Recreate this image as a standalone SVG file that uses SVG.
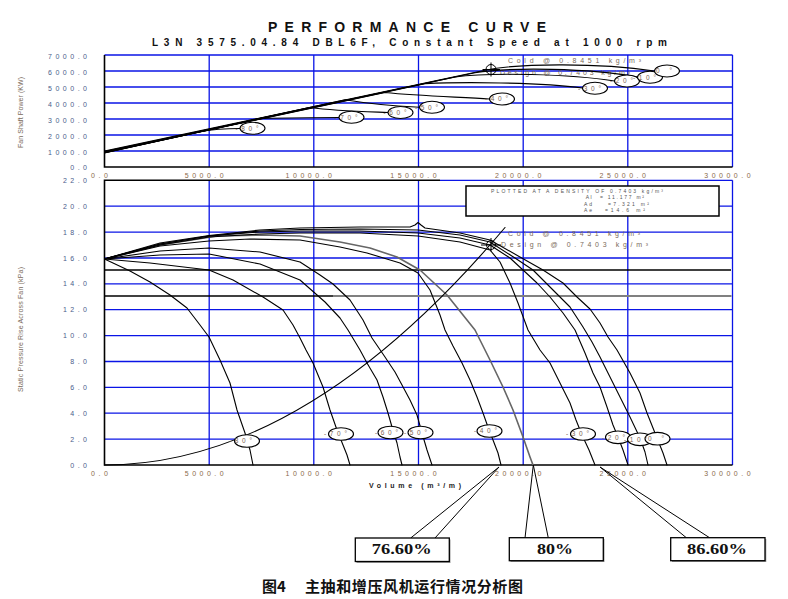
<svg xmlns="http://www.w3.org/2000/svg" width="788" height="599" viewBox="0 0 788 599">
<style>
.grid{stroke:#0a14e6;stroke-width:1.3;fill:none}
.axis{stroke:#000;stroke-width:1.6;fill:none}
.cv{fill:none;stroke:#000;stroke-width:1.1;stroke-linejoin:round;stroke-linecap:round}
.ell{fill:#fff;stroke:#000;stroke-width:1.1}
.tx{font-family:"Liberation Sans",Arial,sans-serif;font-size:7px;letter-spacing:3.5px}
.ty{fill:#4a5d8a}
.txx{fill:#8a6a4a}
.lab{font-family:"Liberation Sans",Arial,sans-serif;font-size:6.5px;fill:#7a6450}
.small{font-family:"Liberation Sans",Arial,sans-serif;font-size:7px;fill:#7a6a5a}
.leg{font-family:"Liberation Sans",Arial,sans-serif;font-size:5px;fill:#555}
.box{fill:#fff;stroke:#000;stroke-width:1.3}
.shadow{fill:#999}
.pct{font-family:"Liberation Serif","Times New Roman",serif;font-weight:bold;font-size:14px;fill:#111}
.conn{stroke:#000;stroke-width:1;fill:none}
.cross{fill:none;stroke:#000;stroke-width:1}
</style>
<rect width="788" height="599" fill="#fff"/>

<g id="title" font-family="Liberation Sans, Arial, sans-serif" font-weight="bold" fill="#111">
<text x="268" y="32" font-size="14" textLength="278" lengthAdjust="spacing">PERFORMANCE CURVE</text>
<text x="152" y="46" font-size="10" textLength="515" lengthAdjust="spacing">L3N 3575.04.84 DBL6F, Constant Speed at 1000 rpm</text>
</g>

<g id="power-chart">
<g class="grid">
<line x1="104.5" y1="55" x2="732.5" y2="55"/>
<line x1="104.5" y1="71" x2="732.5" y2="71"/>
<line x1="104.5" y1="87" x2="732.5" y2="87"/>
<line x1="104.5" y1="103" x2="732.5" y2="103"/>
<line x1="104.5" y1="119" x2="732.5" y2="119"/>
<line x1="104.5" y1="135" x2="732.5" y2="135"/>
<line x1="104.5" y1="151" x2="732.5" y2="151"/>
<line x1="209.2" y1="55" x2="209.2" y2="167"/>
<line x1="313.8" y1="55" x2="313.8" y2="167"/>
<line x1="418.5" y1="55" x2="418.5" y2="167"/>
<line x1="523.2" y1="55" x2="523.2" y2="167"/>
<line x1="627.8" y1="55" x2="627.8" y2="167"/>
<line x1="732.5" y1="55" x2="732.5" y2="167"/>
</g>
<polyline class="axis" points="104.5,55 104.5,167 732.5,167"/>
<g class="tx ty" text-anchor="end">
<text x="90.5" y="58.5">7000.0</text>
<text x="90.5" y="74.5">6000.0</text>
<text x="90.5" y="90.5">5000.0</text>
<text x="90.5" y="106.5">4000.0</text>
<text x="90.5" y="122.5">3000.0</text>
<text x="90.5" y="138.5">2000.0</text>
<text x="90.5" y="154.5">1000.0</text>
<text x="90.5" y="170">0.0</text>
</g>
<g class="tx txx" text-anchor="middle">
<text x="101.2" y="177.5">0.0</text>
<text x="206" y="177.5">5000.0</text>
<text x="310.5" y="177.5">10000.0</text>
<text x="415.2" y="177.5">15000.0</text>
<text x="520" y="177.5">20000.0</text>
<text x="624.5" y="177.5">25000.0</text>
<text x="729.2" y="177.5">30000.0</text>
</g>
<text class="small" transform="translate(22.5,112.5) rotate(-90)" text-anchor="middle" font-size="6.5" fill="#4a5d8a" textLength="71" lengthAdjust="spacing">Fan Shaft Power (KW)</text>
<text class="small" x="508" y="63" textLength="133" lengthAdjust="spacing">Cold @ 0.8451 kg/m³</text>
<text class="small" x="500" y="75" textLength="130" lengthAdjust="spacing">Design @ 0.7403 kg/m³</text>
<g id="power-curves">
<path class="cv" d="M104.5,151 L485,70.2 C520,63 600,63 654.5,71"/>
<path class="cv" d="M104.5,151.6 L475,72.8 C510,67 590,68 637.5,77"/>
<path class="cv" d="M104.5,151.8 L455,77 C490,72 570,74 614.5,81"/>
<path class="cv" d="M104.5,152 L425,83.6 C460,82 540,82 582.5,88"/>
<path class="cv" d="M104.5,152.2 L385,92.5 C420,96 460,97 489.5,99"/>
<path class="cv" d="M104.5,152.4 L345,99.7 C370,104 395,106 419.5,107.3"/>
<path class="cv" d="M104.5,152.6 L310,107.5 C335,111 360,111.5 388,112.5"/>
<path class="cv" d="M104.5,152.8 L262,118.4 C285,118 310,117.5 339,117.5"/>
<path class="cv" d="M104.5,153 L200,131.8 C215,129 228,128.5 240,128.5"/>
</g>
<g id="power-design-point" class="cross">
<circle cx="491" cy="69.5" r="5"/>
<line x1="482.5" y1="69.5" x2="500" y2="69.5"/>
<line x1="491" y1="62.5" x2="491" y2="76.5"/>
</g>
<g id="power-angle-labels">
<ellipse class="ell" cx="252.5" cy="128.3" rx="12.5" ry="6"/>
<ellipse class="ell" cx="351.5" cy="117.3" rx="12.5" ry="6"/>
<ellipse class="ell" cx="400.5" cy="112.5" rx="12.5" ry="6"/>
<ellipse class="ell" cx="432" cy="107.3" rx="12.5" ry="6"/>
<ellipse class="ell" cx="502" cy="99" rx="12.5" ry="6"/>
<ellipse class="ell" cx="595" cy="88.3" rx="12.5" ry="6"/>
<ellipse class="ell" cx="627" cy="81" rx="12.5" ry="6"/>
<ellipse class="ell" cx="650" cy="77.3" rx="12.5" ry="6"/>
<ellipse class="ell" cx="667" cy="71" rx="12.5" ry="6"/>
<g class="lab">
<text x="235.5" y="130.5" textLength="23">-80°</text>
<text x="334.5" y="119.5" textLength="23">-70°</text>
<text x="383.5" y="114.7" textLength="23">-60°</text>
<text x="415" y="109.5" textLength="23">-50°</text>
<text x="485" y="101.2" textLength="23">-40°</text>
<text x="578" y="90.5" textLength="23">-30°</text>
<text x="610" y="83.2" textLength="23">-20°</text>
<text x="633" y="79.5" textLength="23">-10°</text>
<text x="656" y="73.2" textLength="16">0°</text>
</g>
</g>
</g>

<g id="pressure-chart">
<g class="grid">
<line x1="440" y1="180.3" x2="732.5" y2="180.3"/>
<line x1="104.5" y1="206.2" x2="732.5" y2="206.2"/>
<line x1="104.5" y1="232.1" x2="732.5" y2="232.1"/>
<line x1="104.5" y1="258" x2="732.5" y2="258"/>
<line x1="104.5" y1="283.8" x2="732.5" y2="283.8"/>
<line x1="104.5" y1="309.7" x2="732.5" y2="309.7"/>
<line x1="104.5" y1="335.6" x2="732.5" y2="335.6"/>
<line x1="104.5" y1="361.5" x2="732.5" y2="361.5"/>
<line x1="104.5" y1="387.4" x2="732.5" y2="387.4"/>
<line x1="104.5" y1="413.2" x2="732.5" y2="413.2"/>
<line x1="104.5" y1="439.1" x2="732.5" y2="439.1"/>
<line x1="209.2" y1="180.3" x2="209.2" y2="465"/>
<line x1="313.8" y1="180.3" x2="313.8" y2="465"/>
<line x1="418.5" y1="180.3" x2="418.5" y2="465"/>
<line x1="523.2" y1="180.3" x2="523.2" y2="465"/>
<line x1="627.8" y1="180.3" x2="627.8" y2="465"/>
<line x1="732.5" y1="180.3" x2="732.5" y2="465"/>
</g>
<polyline class="axis" points="440,180.3 104.5,180.3 104.5,465 732.5,465"/>
<line x1="104.5" y1="270" x2="731" y2="270" stroke="#000" stroke-width="1.3"/>
<line x1="104.5" y1="296" x2="333" y2="296" stroke="#000" stroke-width="1.3"/>
<line x1="333" y1="296" x2="731.5" y2="296" stroke="#808080" stroke-width="2"/>
<g class="tx ty" text-anchor="end">
<text x="90.5" y="182.8">22.0</text>
<text x="90.5" y="208.7">20.0</text>
<text x="90.5" y="234.6">18.0</text>
<text x="90.5" y="260.5">16.0</text>
<text x="90.5" y="286.3">14.0</text>
<text x="90.5" y="312.2">12.0</text>
<text x="90.5" y="338.1">10.0</text>
<text x="90.5" y="364">8.0</text>
<text x="90.5" y="389.9">6.0</text>
<text x="90.5" y="415.7">4.0</text>
<text x="90.5" y="441.6">2.0</text>
<text x="90.5" y="467.5">0.0</text>
</g>
<g class="tx txx" text-anchor="middle">
<text x="101.2" y="475.5">0.0</text>
<text x="206" y="475.5">5000.0</text>
<text x="310.5" y="475.5">10000.0</text>
<text x="415.2" y="475.5">15000.0</text>
<text x="520" y="475.5">20000.0</text>
<text x="624.5" y="475.5">25000.0</text>
<text x="729.2" y="475.5">30000.0</text>
</g>
<text x="369" y="488" font-family="Liberation Sans, Arial, sans-serif" font-size="7" font-weight="bold" fill="#222" textLength="92" lengthAdjust="spacing">Volume (m³/m)</text>
<text class="small" transform="translate(22.5,329.5) rotate(-90)" text-anchor="middle" font-size="6.5" fill="#4a5d8a" textLength="125" lengthAdjust="spacing">Static Pressure Rise Across Fan (kPa)</text>
<text class="small" x="508" y="236" textLength="132" lengthAdjust="spacing">Cold @ 0.8451 kg/m³</text>
<text class="small" x="501" y="247" textLength="147" lengthAdjust="spacing">Design @ 0.7403 kg/m³</text>

<g id="pressure-curves">
<polyline points="104.5,259 160,245 217,236 260,235 300,236 340,242 370,248 397,257 420,270 447,295 475,330 490,360 503,387 513,410 523,437 530,457 533,465" fill="none" stroke="#666" stroke-width="1.6" stroke-linejoin="round"/>
<polyline class="cv" points="104.5,259 113,263 130,271 150,282 170,295 187,308 200,325 209,337 220,360 230,383 237,410 245,433 250,450 253,465"/>
<polyline class="cv" points="104.5,259 150,263 209,270 233,280 263,297 283,310 293,325 300,338 306,350 313,363 323,387 330,410 337,430 343,445 347,455 350,465"/>
<polyline class="cv" points="104.5,259 160,255 209,254 260,264 300,280 325,302 340,318 348,330 360,350 367,363 377,380 383,397 388,413 392,427 397,443 400,457 402,465"/>
<polyline class="cv" points="104.5,259 160,251 209,248 260,252 300,262 320,275 333,284 350,300 363,320 372,338 385,357 395,372 402,385 410,400 417,415 422,433 427,450 432,465"/>
<polyline class="cv" points="104.5,259 160,246 209,241 250,239 300,240 340,247 367,253 400,263 418,273 430,290 440,315 445,330 453,346 462,363 470,380 477,397 483,413 488,427 493,440 498,453 501,465"/>
<polyline class="cv" points="104.5,259 160,245 209,237 260,234 300,233 360,233 418,236 460,242 490,250 500,262 510,283 518,303 528,330 540,350 550,363 560,383 570,403 576,420 582,435 589,450 595,465"/>
<polyline class="cv" points="104.5,259 160,244 209,236 260,232 300,231 360,231 418,233 460,238 490,245 510,258 523,270 537,283 550,297 563,313 575,330 585,353 593,373 600,387 607,407 613,425 618,437 623,450 628,465"/>
<polyline class="cv" points="104.5,259 160,244 209,236 260,231 300,229.5 360,229 418,230 460,235 490,242 515,258 533,270 553,290 570,307 583,327 592,342 600,357 610,377 620,397 630,417 640,438 645,452 648,465"/>
<polyline class="cv" points="104.5,259 160,243 209,235.5 260,230 300,228 360,227 410,227 415,225 418,222.5 421,225 425,228 460,233 490,240 520,257 543,270 563,283 577,297 590,309 600,323 608,337 617,350 630,373 640,393 647,413 657,438 663,453 667,465"/>
<path class="cv" d="M104.5,465 Q304.75,465 505,227.5"/>
</g>
<g id="pressure-design-point" class="cross">
<circle cx="491" cy="245" r="4.5"/>
<line x1="481" y1="245" x2="501" y2="245"/>
<line x1="491" y1="238" x2="491" y2="251.5"/>
</g>
<g id="pressure-angle-labels">
<ellipse class="ell" cx="247" cy="441" rx="12.5" ry="6.3"/>
<ellipse class="ell" cx="341" cy="434" rx="12.5" ry="6.3"/>
<ellipse class="ell" cx="390.5" cy="432.5" rx="12.5" ry="6.3"/>
<ellipse class="ell" cx="420.5" cy="432.5" rx="12.5" ry="6.3"/>
<ellipse class="ell" cx="489.5" cy="431" rx="12.5" ry="6.3"/>
<ellipse class="ell" cx="583" cy="434" rx="12.5" ry="6.3"/>
<ellipse class="ell" cx="618" cy="437.3" rx="12.5" ry="6.3"/>
<ellipse class="ell" cx="640" cy="439.3" rx="12.5" ry="6.3"/>
<ellipse class="ell" cx="657.5" cy="438.7" rx="12.5" ry="6.3"/>
<g class="lab">
<text x="229" y="443.2" textLength="23">-80°</text>
<text x="324" y="436.2" textLength="23">-70°</text>
<text x="375" y="434.7" textLength="23">-60°</text>
<text x="404" y="434.7" textLength="23">-50°</text>
<text x="474" y="433.2" textLength="23">-40°</text>
<text x="566" y="436.2" textLength="23">-30°</text>
<text x="602" y="439.5" textLength="23">-20°</text>
<text x="624" y="441.5" textLength="23">-10°</text>
<text x="648" y="440.9" textLength="16">0°</text>
</g>
</g>
<g id="legend">
<rect x="466" y="186" width="253" height="30" fill="#fff" stroke="#000" stroke-width="1.5"/>
<text class="leg" x="491" y="192.7" textLength="172" lengthAdjust="spacing">PLOTTED AT A DENSITY OF 0.7403 kg/m³</text>
<text class="leg" x="585.7" y="198.5" textLength="6" lengthAdjust="spacing">Al</text>
<text class="leg" x="600" y="198.5" textLength="44" lengthAdjust="spacing">= 11.177 m²</text>
<text class="leg" x="584" y="205.5" textLength="8" lengthAdjust="spacing">Ad</text>
<text class="leg" x="608" y="205.5" textLength="41" lengthAdjust="spacing">=7.321 m²</text>
<text class="leg" x="584" y="212" textLength="8" lengthAdjust="spacing">Ae</text>
<text class="leg" x="605" y="212" textLength="40" lengthAdjust="spacing">=14.6  m²</text>
</g>
</g>

<g id="connectors">
<polyline class="conn" points="410.7,538 499,467 435,538"/>
<polyline class="conn" points="525,538 533.3,465 548.3,538"/>
<polyline class="conn" points="686.7,538 600,467 710,538"/>
</g>

<g id="callout-7660">
<rect class="shadow" x="356.5" y="539.5" width="94" height="23.5"/>
<rect class="box" x="355.3" y="538" width="94" height="23.5"/>
<text class="pct" x="371.7" y="554" textLength="60" lengthAdjust="spacingAndGlyphs">76.60%</text>
</g>
<g id="callout-80">
<rect class="shadow" x="510.5" y="539" width="94" height="23"/>
<rect class="box" x="509.3" y="537.7" width="94" height="23"/>
<text class="pct" x="537" y="553.8" textLength="36" lengthAdjust="spacingAndGlyphs">80%</text>
</g>
<g id="callout-8660">
<rect class="shadow" x="672" y="539" width="94.3" height="23"/>
<rect class="box" x="670.7" y="537.7" width="94.3" height="23"/>
<text class="pct" x="687" y="553.8" textLength="60" lengthAdjust="spacingAndGlyphs">86.60%</text>
</g>

<g id="caption" font-family="Noto Sans CJK SC, sans-serif" font-weight="bold" font-size="15" fill="#111">
<text x="262" y="592">图4</text>
<text x="305" y="592" textLength="218" lengthAdjust="spacing">主抽和增压风机运行情况分析图</text>
</g>
</svg>
